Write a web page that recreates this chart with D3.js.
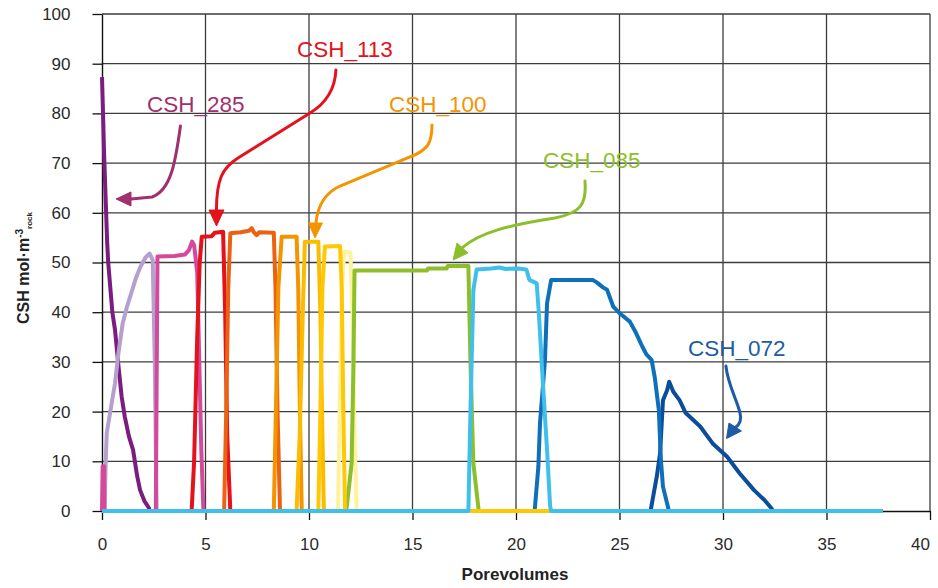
<!DOCTYPE html>
<html>
<head>
<meta charset="utf-8">
<script src="https://cdn.jsdelivr.net/npm/d3@7"></script>
<style>
  body { margin: 0; background: #fff; }
  svg { display: block; }
  text { font-family: "Liberation Sans", Arial, Helvetica, sans-serif; }
</style>
</head>
<body>
<svg id="chart" width="938" height="588"></svg>
<script>
// Axis ticks
const xTicks = [0, 5, 10, 15, 20, 25, 30, 35, 40];
const yTicks = [0, 10, 20, 30, 40, 50, 60, 70, 80, 90, 100];

// CSH profiles: [porevolumes, CSH mol/m3 rock]
const profPurple = [[0,87.3],[0.05,80],[0.1,72],[0.15,66],[0.2,60],[0.25,54],[0.3,50],[0.4,45],[0.5,40],[0.63,36.4],[0.8,29],[0.95,23],[1.1,19],[1.3,15],[1.5,12.3],[1.7,7],[1.84,4.2],[2.05,2],[2.27,0.6],[2.3,0],[37.7,0]];
const profLavender = [[0,0],[0.12,0],[0.18,10],[0.23,15.7],[0.4,20],[0.63,25.7],[0.8,32],[1.0,37.8],[1.2,41],[1.5,45],[1.65,47],[1.84,49],[2.1,51],[2.3,51.8],[2.45,50.5],[2.55,30],[2.64,0],[37.7,0]];
const profPink = [[0,0],[0.03,9],[0.1,9],[0.12,0],[2.6,0],[2.68,51.2],[3.5,51.3],[4.0,51.6],[4.2,52.5],[4.35,54.2],[4.45,53.5],[4.6,48],[4.7,30],[4.8,12],[4.9,0],[37.7,0]];
const profRed = [[0,0],[4.33,0],[4.45,10],[4.6,35],[4.72,50],[4.82,55.2],[5.3,55.3],[5.45,56],[5.85,56.2],[5.95,40],[6.05,15],[6.2,0],[37.7,0]];
const profOrangeRed = [[0,0],[5.9,0],[6.0,20],[6.1,45],[6.2,55.9],[6.7,56.1],[7.1,56.4],[7.23,56.9],[7.35,56],[7.47,55.5],[7.6,56.1],[8.3,56],[8.38,45],[8.48,20],[8.6,0],[37.7,0]];
const profOrange = [[0,0],[8.3,0],[8.4,20],[8.52,45],[8.68,55.2],[9.4,55.2],[9.48,45],[9.56,20],[9.65,0],[37.7,0]];
const profAmber = [[0,0],[9.4,0],[9.55,15],[9.7,40],[9.8,54.2],[10.45,54.2],[10.55,40],[10.65,15],[10.72,0],[37.7,0]];
const profPaleYellow = [[0,0],[11.4,0],[11.5,25],[11.6,45],[11.7,52.2],[12.0,52],[12.1,40],[12.2,15],[12.3,0],[37.7,0]];
const profGreen = [[0,0],[11.8,0],[12.06,9.6],[12.15,30],[12.2,48.4],[15.7,48.4],[15.75,48.8],[16.65,48.8],[16.7,49.3],[17.7,49.3],[17.8,30],[17.94,9.6],[18.2,0],[37.7,0]];
const profDarkBlue = [[0,0],[26.5,0],[26.8,6.9],[26.96,11.6],[27.1,22.3],[27.3,24.3],[27.4,26.0],[27.6,24.0],[27.9,22.3],[28.2,19.7],[28.9,17.0],[29.5,13.6],[30.2,10.9],[30.8,7.6],[31.5,4.2],[32.0,2.2],[32.35,0.5],[32.4,0],[37.7,0]];
const profMidBlue = [[0,0],[20.9,0],[21.08,8.9],[21.16,17.7],[21.3,25],[21.4,30.4],[21.5,41.8],[21.7,46.5],[23.7,46.5],[23.9,46],[24.2,45],[24.4,44.5],[24.7,41.1],[25.0,39.8],[25.3,38.8],[25.5,38.1],[25.8,35.8],[26.1,33.1],[26.3,31.5],[26.55,30.4],[26.7,27.0],[26.9,20.3],[27.0,10.3],[27.1,4.9],[27.36,0.5],[27.4,0],[37.7,0]];
const profYellow = [[0,0],[10.45,0],[10.55,20],[10.65,45],[10.77,53.2],[11.5,53.3],[11.58,45],[11.66,20],[11.74,0],[37.7,0]];
const profLightBlue = [[0,0],[17.7,0],[17.8,20],[17.94,44.5],[18.1,48.6],[18.8,48.8],[19.2,49],[19.5,48.7],[20.1,48.8],[20.5,48.6],[20.65,46.5],[21.0,45.8],[21.1,40],[21.16,35.8],[21.3,25.7],[21.5,12.3],[21.65,0.9],[21.7,0],[37.7,0]];

// Drawing order (bottom to top) with colours
const profiles = [
  { data: profPurple,     color: "#7b1c81" },
  { data: profLavender,   color: "#b59fcf" },
  { data: profPink,       color: "#d4499b" },
  { data: profRed,        color: "#e3121b" },
  { data: profOrangeRed,  color: "#eb6312" },
  { data: profOrange,     color: "#f39400" },
  { data: profAmber,      color: "#fbbb00" },
  { data: profPaleYellow, color: "#fff29b" },
  { data: profGreen,      color: "#8dbf2a" },
  { data: profDarkBlue,   color: "#0b4c9b" },
  { data: profMidBlue,    color: "#0e70b8" },
  { data: profYellow,     color: "#ffc805" },
  { data: profLightBlue,  color: "#3fbfec" }
];

// Callout labels and their curved arrows, in data units
const callouts = [
  { label: "CSH_285", color: "#a0306e", text: [2.17, 80.28],
    path: [[3.79,77.46],[3.57,71.03],[3.38,64.59],[2.42,63.18],[1.40,62.78]], segs: ["C","L"],
    head: [[0.68,62.78],[1.40,64.19],[1.40,61.37]] },
  { label: "CSH_113", color: "#e3121b", text: [9.42, 91.35],
    path: [[11.30,88.73],[11.26,85.11],[10.92,82.29],[10.05,80.08],[6.57,71.03],[5.80,69.01],[5.53,66.60],[5.53,60.56]], segs: ["C","L","C"],
    head: [[5.53,57.34],[5.17,60.56],[5.89,60.56]] },
  { label: "CSH_100", color: "#f39400", text: [13.86, 80.28],
    path: [[15.94,77.67],[15.94,74.04],[15.75,72.64],[14.88,71.23],[11.50,65.39],[10.77,63.98],[10.43,61.57],[10.34,58.15]], segs: ["C","L","C"],
    head: [[10.29,54.93],[9.98,57.95],[10.65,57.95]] },
  { label: "CSH_085", color: "#8dbf2a", text: [21.30, 69.01],
    path: [[23.33,66.40],[23.43,61.57],[23.09,59.96],[21.88,58.95],[19.71,57.55],[18.26,56.14],[17.39,52.92]], segs: ["C","C"],
    head: [[16.96,50.50],[17.15,53.92],[17.68,51.91]] },
  { label: "CSH_072", color: "#1d5ba6", text: [28.31, 31.19],
    path: [[30.14,29.18],[30.24,25.35],[30.68,22.33],[30.82,19.72],[30.92,18.31],[30.77,17.30],[30.58,16.70]], segs: ["C","C"],
    head: [[30.17,14.59],[30.29,17.71],[30.89,16.10]] }
];

const svg = d3.select("#chart");
const x = d3.scaleLinear().domain([0, 40]).range([102, 930]);
const y = d3.scaleLinear().domain([0, 100]).range([511, 14]);

svg.append("rect").attr("width", 938).attr("height", 588).attr("fill", "#fff");

// Grid
const grid = svg.append("g").attr("stroke", "#3c3c3c").attr("stroke-width", 1.3);
grid.selectAll("line.h").data(yTicks.filter(d => d > 0)).join("line")
  .attr("class", "h").attr("x1", x(0)).attr("x2", x(40))
  .attr("y1", d => y(d)).attr("y2", d => y(d));
grid.selectAll("line.v").data(xTicks.filter(d => d > 0)).join("line")
  .attr("class", "v").attr("y1", y(0)).attr("y2", y(100))
  .attr("x1", d => x(d)).attr("x2", d => x(d));

// Axes
const yAxis = svg.append("g").attr("transform", `translate(${x(0)},0)`)
  .call(d3.axisLeft(y).tickValues(yTicks).tickSize(9.5).tickPadding(22).tickSizeOuter(0));
const xAxis = svg.append("g").attr("transform", `translate(0,${y(0)})`)
  .call(d3.axisBottom(x).tickValues(xTicks).tickSize(9).tickPadding(18).tickSizeOuter(0));
[yAxis, xAxis].forEach(g => {
  g.select(".domain").attr("stroke", "#111").attr("stroke-width", 1.4);
  g.selectAll(".tick line").attr("stroke", "#111").attr("stroke-width", 1.3);
  g.selectAll(".tick text").attr("fill", "#2a2a2a").style("font-size", "17px")
    .style("font-family", '"Liberation Sans", Arial, sans-serif');
});
// keep the last x label inside the canvas
xAxis.selectAll(".tick text").filter(d => d === 40).attr("dx", -10);

// Profiles
const line = d3.line().x(d => x(d[0])).y(d => y(d[1]));
svg.append("g").selectAll("path").data(profiles).join("path")
  .attr("d", d => line(d.data))
  .attr("fill", "none")
  .attr("stroke", d => d.color)
  .attr("stroke-width", 4)
  .attr("stroke-linejoin", "round")
  .attr("stroke-linecap", "butt");

// Callouts
const ann = svg.append("g");
callouts.forEach(c => {
  const pts = c.path.map(p => [x(p[0]), y(p[1])]);
  let d = `M${pts[0][0]},${pts[0][1]}`;
  let i = 1;
  c.segs.forEach(s => {
    if (s === "C") { d += `C${pts[i]} ${pts[i+1]} ${pts[i+2]}`; i += 3; }
    else { d += `L${pts[i]}`; i += 1; }
  });
  ann.append("path").attr("d", d).attr("fill", "none")
    .attr("stroke", c.color).attr("stroke-width", 3).attr("stroke-linecap", "round");
  ann.append("polygon")
    .attr("points", c.head.map(p => [x(p[0]), y(p[1])].join(",")).join(" "))
    .attr("fill", c.color).attr("stroke", c.color).attr("stroke-width", 1).attr("stroke-linejoin", "round");
  ann.append("text").attr("x", x(c.text[0])).attr("y", y(c.text[1]))
    .attr("fill", c.color).style("font-size", "22.5px").text(c.label);
});

// Axis titles
svg.append("text").attr("x", 515).attr("y", 580).attr("text-anchor", "middle")
  .style("font-size", "17px").style("font-weight", "bold").attr("fill", "#222")
  .text("Porevolumes");
const yt = svg.append("text").attr("transform", "translate(29,268) rotate(-90)")
  .attr("text-anchor", "middle").style("font-size", "16px").style("font-weight", "bold").attr("fill", "#222");
yt.append("tspan").text("CSH mol·m");
yt.append("tspan").attr("dy", -6).style("font-size", "10px").text("-3");
yt.append("tspan").attr("dy", 9).style("font-size", "8px").text("rock");
</script>
</body>
</html>
